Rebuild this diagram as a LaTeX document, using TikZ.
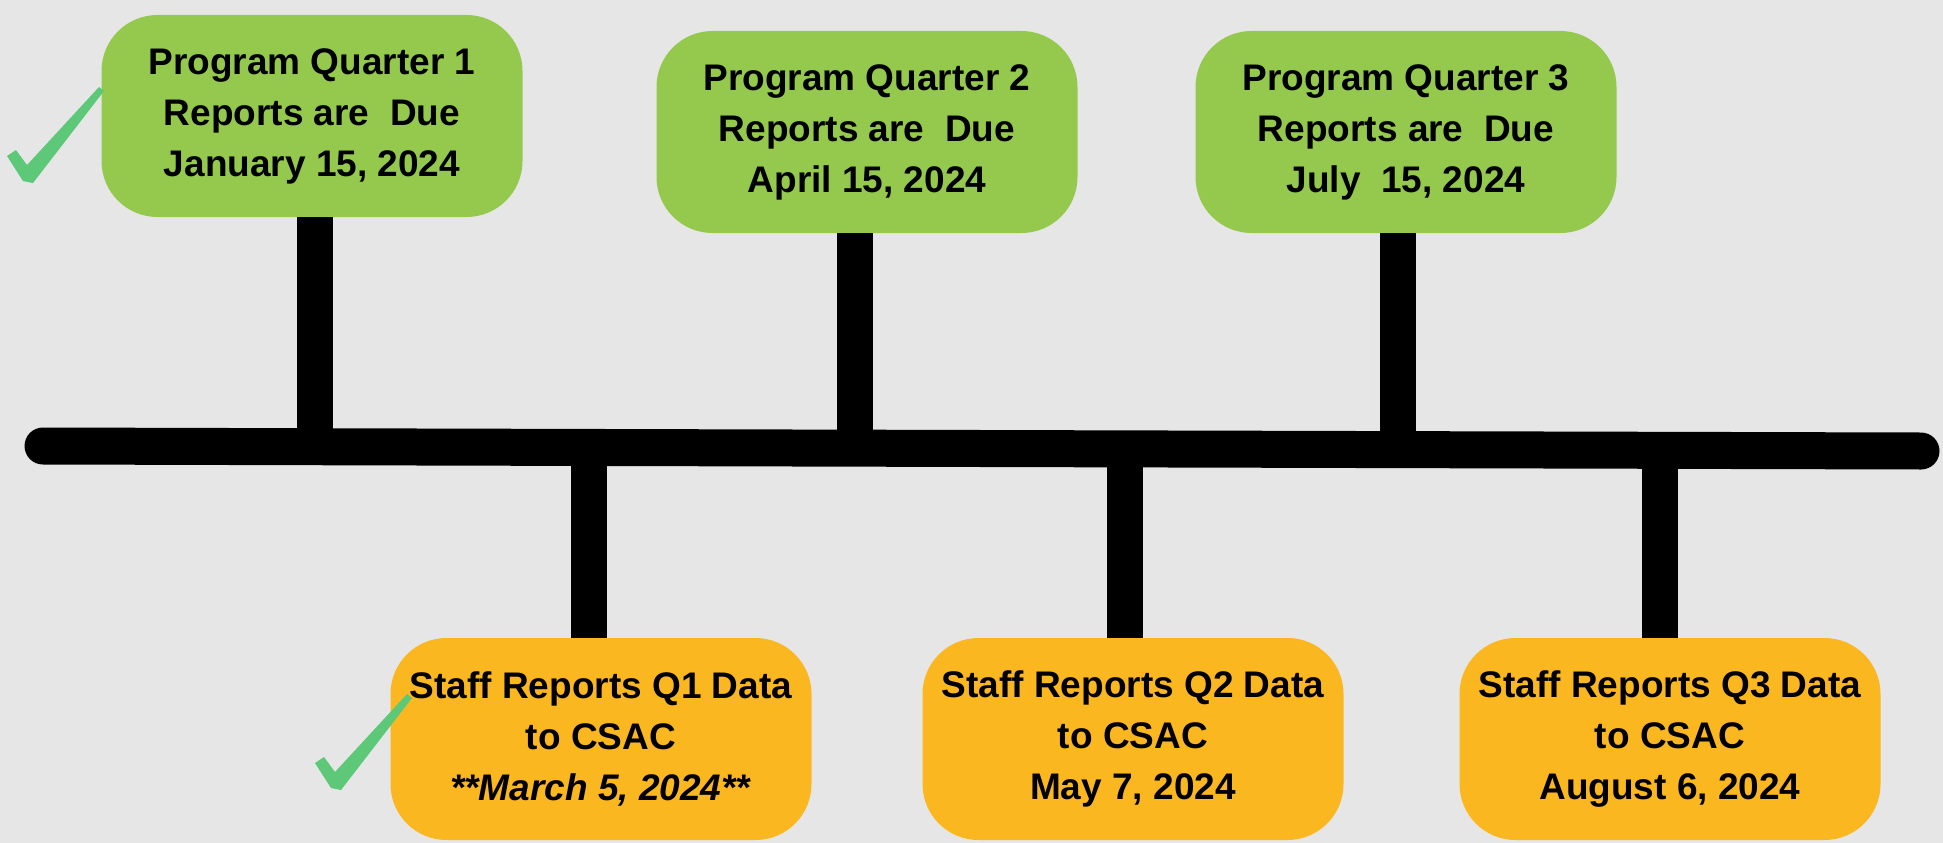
\documentclass[tikz,border=0pt]{standalone}
\usepackage{fontspec}
\setmainfont{Liberation Sans}
\usetikzlibrary{calc,positioning}
\definecolor{bg}{HTML}{E6E6E6}
\definecolor{qgreen}{HTML}{94C94D}
\definecolor{qorange}{HTML}{FBB720}
\definecolor{tickgreen}{HTML}{5CC878}
\tikzset{
timeline/.style={x=1pt,y=-1pt,line join=round},
due/.style={rectangle,rounded corners=56pt,fill=qgreen,minimum width=421pt,
    minimum height=202pt,align=center,inner sep=0pt,
    font=\fontsize{37}{51}\selectfont\bfseries},
staff/.style={due,fill=qorange},
stem/.style={line width=36pt},
mainline/.style={line width=37pt,line cap=round},
donemark/.pic={\fill[tickgreen] (6,6) -- (77,-86) -- (72,-90) -- (0,-12)
    -- (-11,-27) -- (-20,-21) -- (-4,4) -- cycle;},
}
\begin{document}
\begin{tikzpicture}[timeline]

    \fill[bg] (0,0) rectangle (1943,843);
    \useasboundingbox (0,0) rectangle (1943,843);

    \coordinate (left) at (43,446);
    \coordinate (right) at (1921,451);

    % quarterly due dates
    \node[due] (g1) at (312,116) {Program Quarter 1\\Reports are \ Due\\January 15, 2024};
    \node[due] (g2) at (867,132) {Program Quarter 2\\Reports are \ Due\\April 15, 2024};
    \node[due] (g3) at (1406,132) {Program Quarter 3\\Reports are \ Due\\July \ 15, 2024};

    % staff reports
    \node[staff] (o1) at (601,739) {Staff Reports Q1 Data\\to CSAC\\\textit{**March 5, 2024**}};
    \node[staff] (o2) at (1133,739) {Staff Reports Q2 Data\\to CSAC\\May 7, 2024};
    \node[staff] (o3) at (1670,739) {Staff Reports Q3 Data\\to CSAC\\August 6, 2024};

    \draw[stem] ([xshift=3]g1.south) -- ([xshift=3]g1.south |- left);
    \draw[stem] ([xshift=-12]g2.south) -- ([xshift=-12]g2.south |- left);
    \draw[stem] ([xshift=-8]g3.south) -- ([xshift=-8]g3.south |- left);
    \draw[stem] ([xshift=-12]o1.north) -- ([xshift=-12]o1.north |- left);
    \draw[stem] ([xshift=-8]o2.north) -- ([xshift=-8]o2.north |- left);
    \draw[stem] ([xshift=-10]o3.north) -- ([xshift=-10]o3.north |- left);

    \draw[mainline] (left) -- (right);

    \pic at (27,177) {donemark};
    \pic at (335,784) {donemark};
\end{tikzpicture}
\end{document}
